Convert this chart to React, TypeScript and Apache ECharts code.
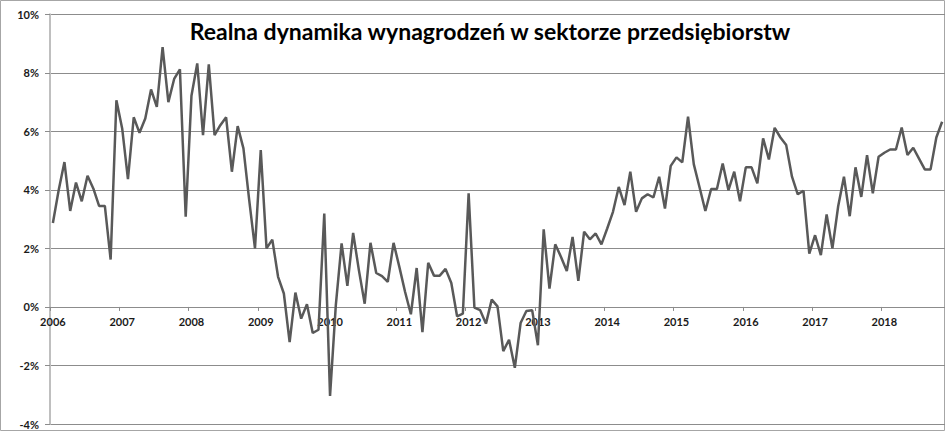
import React, { useEffect, useRef } from "react";
import * as echarts from "echarts";

const TITLE = "Realna dynamika wynagrodzeń w sektorze przedsiębiorstw";
const YEARS = ["2006","2007","2008","2009","2010","2011","2012","2013","2014","2015","2016","2017","2018"];
const Y_TICKS = [-4, -2, 0, 2, 4, 6, 8, 10];

const v2006 = [2.87, 3.99, 4.95, 3.28, 4.25, 3.61, 4.48, 4.05, 3.45, 3.45, 1.62, 7.06];
const v2007 = [6.10, 4.37, 6.48, 5.95, 6.44, 7.43, 6.84, 8.88, 7.00, 7.79, 8.12, 3.08];
const v2008 = [7.22, 8.32, 5.87, 8.29, 5.87, 6.21, 6.48, 4.62, 6.18, 5.42, 3.65, 2.00];
const v2009 = [5.36, 2.00, 2.30, 1.03, 0.46, -1.20, 0.49, -0.40, 0.09, -0.89, -0.78, 3.19];
const v2010 = [-3.04, 0.06, 2.17, 0.72, 2.53, 1.25, 0.11, 2.19, 1.16, 1.05, 0.86, 2.19];
const v2011 = [1.37, 0.51, -0.25, 1.33, -0.86, 1.51, 1.07, 1.07, 1.30, 0.82, -0.32, -0.23];
const v2012 = [3.88, -0.02, -0.11, -0.57, 0.25, 0.02, -1.51, -1.12, -2.08, -0.55, -0.14, -0.11];
const v2013 = [-1.31, 2.65, 0.63, 2.14, 1.71, 1.23, 2.39, 0.89, 2.57, 2.31, 2.51, 2.14];
const v2014 = [2.68, 3.25, 4.10, 3.48, 4.62, 3.25, 3.71, 3.85, 3.74, 4.45, 3.36, 4.82];
const v2015 = [5.11, 4.94, 6.50, 4.87, 4.08, 3.28, 4.03, 4.03, 4.90, 3.99, 4.62, 3.61];
const v2016 = [4.77, 4.77, 4.22, 5.76, 5.04, 6.12, 5.79, 5.53, 4.45, 3.85, 3.97, 1.82];
const v2017 = [2.45, 1.77, 3.16, 2.00, 3.44, 4.45, 3.10, 4.77, 3.76, 5.19, 3.88, 5.13];
const v2018 = [5.27, 5.38, 5.38, 6.13, 5.19, 5.44, 5.07, 4.70, 4.70, 5.79, 6.33];

const YEAR_VALUES = [v2006, v2007, v2008, v2009, v2010, v2011, v2012, v2013, v2014, v2015, v2016, v2017, v2018];

export default function App() {
  const ref = useRef<HTMLDivElement>(null);

  useEffect(() => {
    if (!ref.current) return;
    const chart = echarts.init(ref.current, null, { renderer: "svg" });

    const categories: string[] = [];
    const values: number[] = [];
    YEAR_VALUES.forEach((arr, yi) => {
      arr.forEach((v, mi) => {
        categories.push(`${YEARS[yi]}-${String(mi + 1).padStart(2, "0")}`);
        values.push(v);
      });
    });

    const font = "Lato, 'DejaVu Sans', sans-serif";
    const gridColor = "#8c8c8c";
    const gridTop = 14.3;
    const gridHeight = 409.7;
    const yMin = Y_TICKS[0];
    const yMax = Y_TICKS[Y_TICKS.length - 1];
    // move the category axis from the bottom of the grid up to the 0% level
    const zeroOffset = -gridHeight * (0 - yMin) / (yMax - yMin);

    chart.setOption({
      animation: false,
      backgroundColor: "#ffffff",
      grid: { left: 50, top: gridTop, width: 895.3, height: gridHeight, containLabel: false },
      xAxis: {
        type: "category",
        data: categories,
        boundaryGap: true,
        position: "bottom",
        offset: zeroOffset,
        axisLine: { show: true, onZero: false, lineStyle: { color: gridColor, width: 1 } },
        axisTick: {
          show: true,
          length: 4,
          interval: (i: number) => i % 12 === 0,
          lineStyle: { color: gridColor },
        },
        axisLabel: {
          interval: (i: number) => i % 12 === 0,
          formatter: (v: string) => v.slice(0, 4),
          fontFamily: font,
          fontWeight: "bold",
          fontSize: 11,
          color: "#1a1a1a",
          margin: 9,
        },
        splitLine: { show: false },
      },
      yAxis: {
        type: "value",
        min: yMin,
        max: yMax,
        interval: 2,
        axisLine: { show: true, lineStyle: { color: "#bfbfbf", width: 2 } },
        axisTick: { show: true, length: 5, lineStyle: { color: gridColor } },
        axisLabel: {
          formatter: (v: number) => `${v}%`,
          fontFamily: font,
          fontWeight: "bold",
          fontSize: 11,
          color: "#1a1a1a",
          margin: 11,
        },
        splitLine: { show: true, lineStyle: { color: gridColor, width: 1 } },
      },
      series: [
        {
          type: "line",
          data: values,
          symbol: "none",
          lineStyle: { color: "#595959", width: 2.5 },
          itemStyle: { color: "#595959" },
          z: 5,
        },
      ],
      graphic: [
        {
          type: "rect",
          shape: { x: 0.5, y: 0.5, width: 944, height: 430 },
          style: { fill: "none", stroke: "#a6a6a6", lineWidth: 1 },
          silent: true,
        },
        {
          type: "text",
          x: 490,
          y: 42,
          style: {
            text: TITLE,
            fontFamily: font,
            fontWeight: "bold",
            fontSize: 23,
            fill: "#000000",
            textAlign: "center",
            textVerticalAlign: "bottom",
          },
          z: 10,
        },
      ],
    });

    return () => chart.dispose();
  }, []);

  return (
    <div
      ref={ref}
      style={{ position: "fixed", left: 0, top: 0, width: 945, height: 432, background: "#fff" }}
    />
  );
}
